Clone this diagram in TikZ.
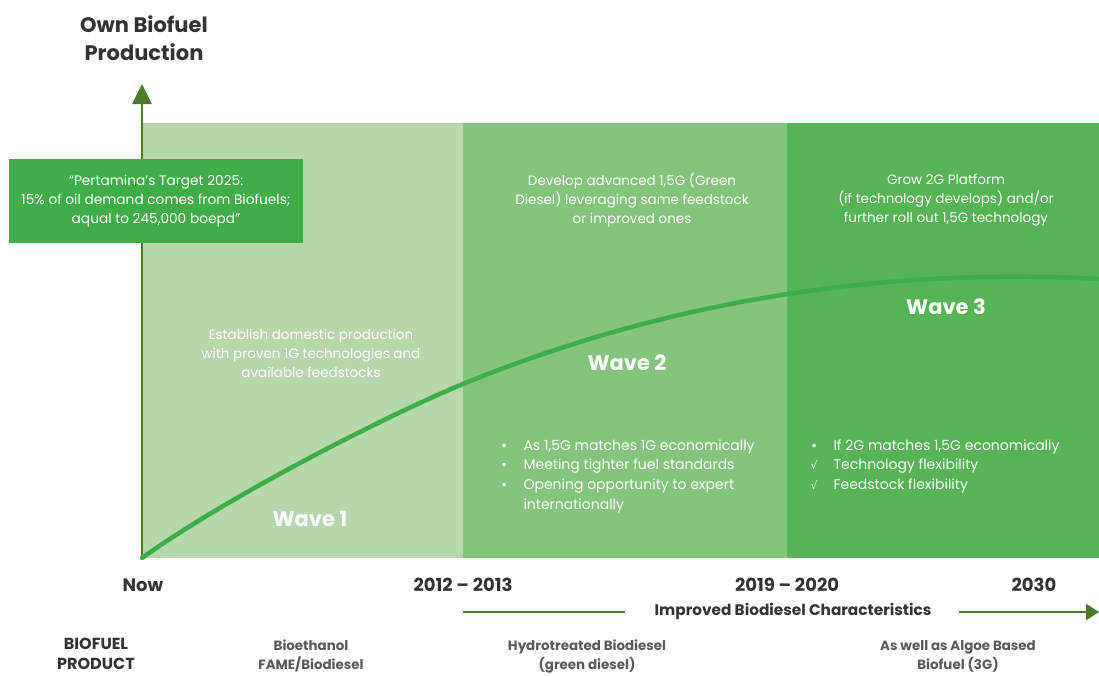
\documentclass[tikz,border=0pt]{standalone}
\usepackage{fontspec}
\setmainfont{Poppins}
\newfontfamily\symfont{DejaVu Sans}
\usepackage{xcolor}
\definecolor{waveOne}{HTML}{B5D7AB}
\definecolor{waveTwo}{HTML}{84C47D}
\definecolor{waveThree}{HTML}{56B356}
\definecolor{targetGreen}{HTML}{3FAE49}
\definecolor{curveGreen}{HTML}{3DAE49}
\definecolor{axisGreen}{HTML}{4B7A2C}
\definecolor{darkText}{HTML}{333333}
\definecolor{grayText}{HTML}{595959}
\usepackage{tikz}
\usetikzlibrary{calc,positioning,arrows.meta}

\tikzset{
  bandtext/.style={text=white, align=center, font=\fontsize{13.5}{19}\selectfont},
  wavelabel/.style={text=white, font=\fontsize{21}{24}\selectfont\bfseries},
  yearlabel/.style={text=darkText, font=\fontsize{18}{20}\selectfont\bfseries},
  productlabel/.style={text=grayText, align=center, font=\fontsize{13.4}{19}\selectfont\bfseries},
  bulletlist/.style={text=white, align=left, anchor=north west, font=\fontsize{14}{19.7}\selectfont},
}
\newcommand{\chk}{{\symfont\fontsize{11}{19}\selectfont\char"221A}}
\newcommand{\bul}{{\symfont\fontsize{12}{19}\selectfont\char"2022}}

\begin{document}
\begin{tikzpicture}[x=1pt, y=-1pt, >=latex]
\useasboundingbox (0,0) rectangle (1099,675);
% ---------- the three waves ----------
\fill[waveOne]   (142,123) rectangle (463,558);
\fill[waveTwo]   (463,123) rectangle (787,558);
\fill[waveThree] (787,123) rectangle (1099,558);
% ---------- vertical axis ----------
\coordinate (origin) at (142,558);
\coordinate (axistop) at (142,84);
\draw[axisGreen, line width=2.6pt, -{Triangle[width=19pt, length=20pt]}] (origin) -- (axistop);
\node[text=darkText, align=center, font=\fontsize{21}{28}\selectfont\bfseries] (ytitle) at (144,38)
  {Own Biofuel\\Production};
% ---------- target box ----------
\node[fill=targetGreen, text=white, align=center, minimum width=294pt, minimum height=84pt,
  inner sep=0pt, font=\fontsize{13.7}{19}\selectfont] (target) at (156,201)
  {``Pertamina's Target 2025:\\15\% of oil demand comes from Biofuels;\\aqual to 245,000 boepd''};
% ---------- production curve ----------
\draw[curveGreen, line width=4.5pt, line cap=round]
  (origin) .. controls (230,495) and (390,414) .. (463,384)
           .. controls (680,295) and (900,268) .. (1099,279);
% ---------- band texts ----------
\node[bandtext] (w1text) at (311,353)
  {Establish domestic production\\with proven 1G technologies and\\available feedstocks};
\node[bandtext] (w2text) at (632,200)
  {Develop advanced 1,5G (Green\\Diesel) leveraging same feedstock\\or improved ones};
\node[bandtext] (w3text) at (946,200)
  {Grow 2G Platform\\(if technology develops) and/or\\further roll out 1,5G technology};
\node[wavelabel] (w1) at (310,519) {Wave 1};
\node[wavelabel] (w2) at (627,363) {Wave 2};
\node[wavelabel] (w3) at (946,307) {Wave 3};
% ---------- drivers ----------
\node[bulletlist] (w2list) at (497,436)
  {\makebox[23pt][l]{\bul}As 1,5G matches 1G economically\\
   \makebox[23pt][l]{\bul}Meeting tighter fuel standards\\
   \makebox[23pt][l]{\bul}Opening opportunity to expert\\
   \makebox[23pt][l]{}internationally};
\node[bulletlist] (w3list) at (807,436)
  {\makebox[23pt][l]{\bul}If 2G matches 1,5G economically\\
   \makebox[23pt][l]{\chk}Technology flexibility\\
   \makebox[23pt][l]{\chk}Feedstock flexibility};
% ---------- time axis ----------
\node[yearlabel] (tnow)  at (143,585) {Now};
\node[yearlabel] (t2012) at (463,585) {2012 -- 2013};
\node[yearlabel] (t2019) at (787,585) {2019 -- 2020};
\node[yearlabel] (t2030) at (1034,585) {2030};
\node[text=darkText, font=\fontsize{15.3}{18}\selectfont\bfseries] (improved) at (793,611)
  {Improved Biodiesel Characteristics};
\coordinate (lineStart) at (463,612);
\coordinate (lineEnd) at (1099,612);
\draw[axisGreen, line width=2.6pt] (lineStart) -- ([xshift=-26pt]improved.west |- lineStart);
\draw[axisGreen, line width=2.6pt, -{Triangle[width=16pt, length=13pt]}]
  ([xshift=24pt]improved.east |- lineEnd) -- (lineEnd);
% ---------- biofuel products ----------
\node[text=darkText, align=center, font=\fontsize{16}{20}\selectfont\bfseries] (product) at (96,654)
  {BIOFUEL\\PRODUCT};
\node[productlabel] (p1) at (311,656) {Bioethanol\\FAME/Biodiesel};
\node[productlabel] (p2) at (587,656) {Hydrotreated Biodiesel\\(green diesel)};
\node[productlabel] (p3) at (958,656) {As well as Algoe Based\\Biofuel (3G)};
\end{tikzpicture}
\end{document}
